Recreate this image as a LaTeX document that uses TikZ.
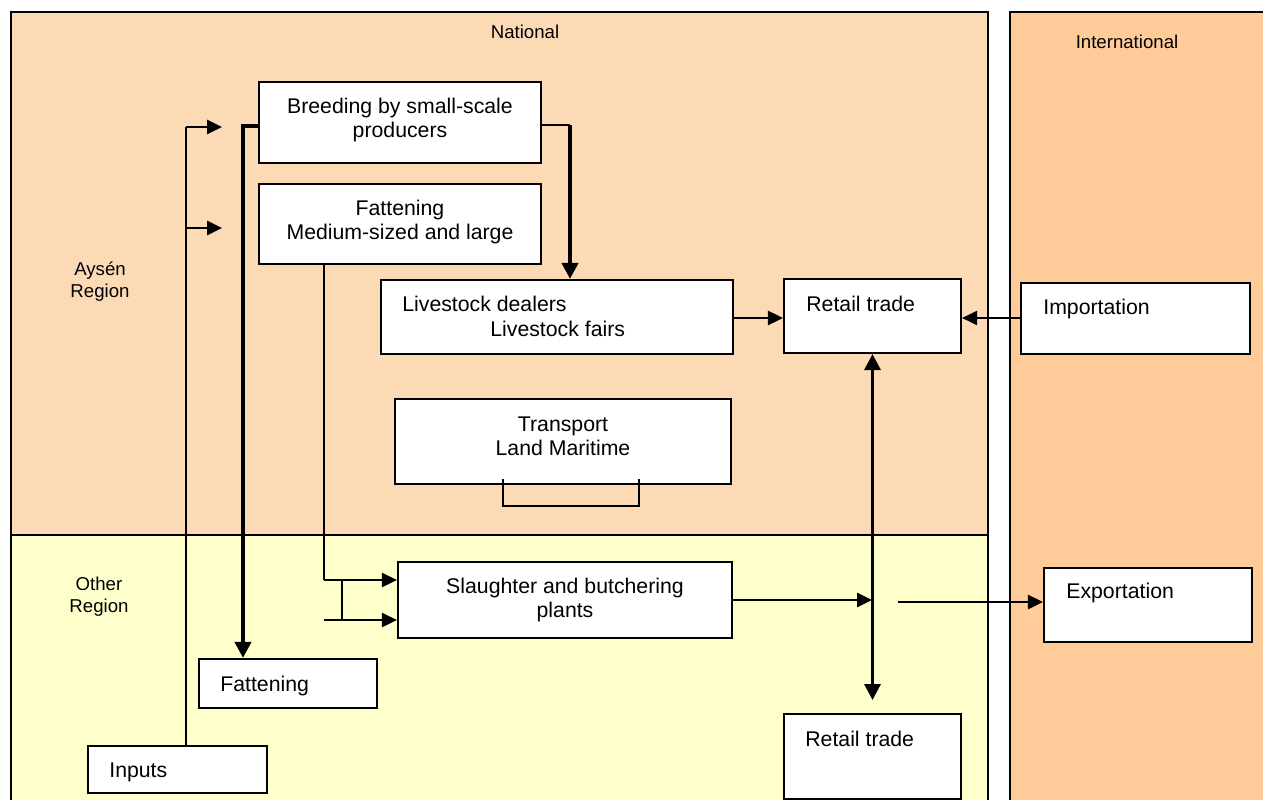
\documentclass[tikz,border=0pt]{standalone}
\usepackage{fontspec}
\setmainfont{Liberation Sans}
\usetikzlibrary{arrows.meta,fit}
\definecolor{natfill}{RGB}{253,218,182}
\definecolor{intfill}{RGB}{255,204,153}
\definecolor{othfill}{RGB}{255,255,204}
\begin{document}
\begin{tikzpicture}[x=0.02cm,y=-0.02cm,
  panel/.style={draw=black,line width=1.2pt},
  box/.style={draw=black,fill=white,line width=1.2pt,inner sep=0pt},
  txt/.style={inner sep=0pt,align=center,font=\fontsize{12.1}{13.7}\selectfont},
  lbl/.style={inner sep=0pt,align=center,font=\fontsize{10.6}{12.5}\selectfont},
  thinline/.style={line width=0.7pt},
  heavy/.style={line width=2.2pt,-{Triangle[length=0.32cm,width=0.32cm]}},
  heavyboth/.style={line width=1.8pt,{Triangle[length=0.32cm,width=0.32cm]}-{Triangle[length=0.32cm,width=0.32cm]}},
  arr/.style={line width=1.5pt,-{Triangle[length=0.3cm,width=0.28cm]}}]
\useasboundingbox (0,0) rectangle (1263,800);
\clip (0,0) rectangle (1263,800);

% regions
\draw[panel,fill=natfill] (11,12) rectangle (988,535);
\draw[panel,fill=othfill] (11,535) rectangle (988,804);
\draw[panel,fill=intfill] (1010,12) rectangle (1268,804);
\node[lbl] (nat) at (525,32) {National};
\node[lbl] (int) at (1127,42) {International};
\node[lbl] (aysen) at (100,282) {Ays\'en\\Region};
\node[lbl] (other) at (99,597) {Other\\Region};

% boxes
\node[box,fit={(259,82)(541,163)}] (breed) {};
\node[box,fit={(259,184)(541,264)}] (fatm) {};
\node[box,fit={(381,280)(733,354)}] (dealer) {};
\node[box,fit={(784,279)(961,353)}] (retail1) {};
\node[box,fit={(1021,283)(1250,354)}] (import) {};
\node[box,fit={(395,399)(731,484)}] (transport) {};
\node[box,fit={(398,562)(732,638)}] (slaughter) {};
\node[box,fit={(1044,568)(1252,642)}] (export) {};
\node[box,fit={(199,659)(377,708)}] (fat2) {};
\node[box,fit={(88,746)(267,793)}] (inputs) {};
\node[box,fit={(784,714)(961,799)}] (retail2) {};

% box texts
\node[txt] (breed-t) at (400,120) {Breeding by small-scale\\producers};
\node[txt] (fatm-t) at (400,222) {Fattening\\Medium-sized and large};
\node[txt,anchor=west] (dealer-t1) at (402,304) {Livestock dealers};
\node[txt,anchor=west] (dealer-t2) at (490,329) {Livestock fairs};
\node[txt,anchor=west] (retail1-t) at (806,304) {Retail trade};
\node[txt,anchor=west] (import-t) at (1043,309) {Importation};
\node[txt] (transport-t) at (563,436) {Transport\\Land Maritime};
\node[txt] (slaughter-t) at (565,600) {Slaughter and butchering\\plants};
\node[txt,anchor=west] (export-t) at (1066,593) {Exportation};
\node[txt,anchor=west] (fat2-t) at (220,686) {Fattening};
\node[txt,anchor=west] (inputs-t) at (109,772) {Inputs};
\node[txt,anchor=west] (retail2-t) at (805,739) {Retail trade};

% transport bracket
\coordinate (brl) at (503,479);
\coordinate (brr) at (639,479);
\draw[thinline] (brl) -- (503,506) -- (639,506) -- (brr);

% inputs feed
\coordinate (in1) at (186,127);
\coordinate (in2) at (186,228);
\coordinate (in1e) at (222,127);
\coordinate (in2e) at (222,228);
\draw[thinline] (in1 |- inputs.north) -- (in1);
\draw[arr] (in1) -- (in1e);
\draw[arr] (in2) -- (in2e);

% breeding to fattening (other region)
\coordinate (bl) at (243,126);
\draw[heavy] (breed.west |- bl) -- (bl) -- (bl |- fat2.north);

% breeding to dealers
\coordinate (br) at (570,125);
\draw[thinline] (breed.east |- br) -- (br);
\draw[heavy] (br) -- (br |- dealer.north);

% fattening to slaughter
\coordinate (fb1) at (324,580);
\coordinate (fb2) at (324,620);
\coordinate (tk1) at (342,579);
\coordinate (tk2) at (342,619);
\draw[thinline] (fb1 |- fatm.south) -- (fb1);
\draw[arr] (fb1) -- (fb1 -| slaughter.west);
\draw[arr] (fb2) -- (fb2 -| slaughter.west);
\draw[thinline] (tk1) -- (tk2);

% retail trade links
\coordinate (dl) at (733,318);
\draw[arr] (dl) -- (dl -| retail1.west);
\draw[arr] (import.west |- dl) -- (dl -| retail1.east);
\coordinate (dend) at (872.5,700);
\draw[heavyboth] (retail1.south) -- (dend);

% slaughter outputs
\coordinate (sr) at (872,600);
\draw[arr] (slaughter.east |- sr) -- (sr);
\coordinate (es) at (898,602);
\draw[arr] (es) -- (es -| export.west);
\end{tikzpicture}
\end{document}
